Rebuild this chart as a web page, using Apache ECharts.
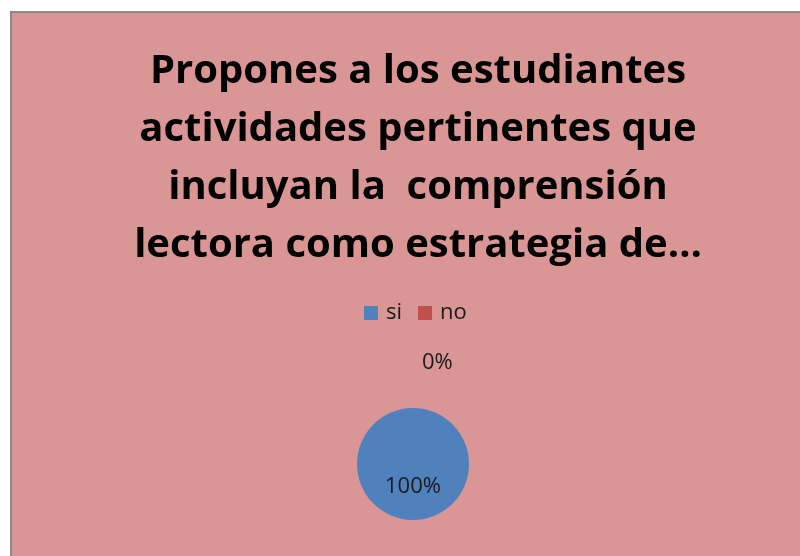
<!DOCTYPE html>
<html>
<head>
<meta charset="utf-8">
<script src="https://cdn.jsdelivr.net/npm/echarts@6/dist/echarts.min.js"></script>
<style>
  html, body { margin: 0; padding: 0; background: #fff; }
  #myChart { width: 800px; height: 556px; }
</style>
</head>
<body>
<div id="myChart"></div>
<script>
// datos del gráfico
const categories = ['si', 'no'];
const values = [100, 0];
const colors = ['#4F81BD', '#C0504D'];
const titleLines = [
  'Propones a los estudiantes',
  'actividades pertinentes que',
  'incluyan la  comprensión',
  'lectora como estrategia de…'
];

const myChart = echarts.init(document.getElementById('myChart'));

const setOption = () => {
  return {
    backgroundColor: '#fff',
    animation: false,
    graphic: [
      {
        type: 'rect',
        z: -10,
        shape: { x: 11, y: 12, width: 800, height: 560 },
        style: { fill: '#D99694', stroke: '#8C8C8C', lineWidth: 2 },
        silent: true,
      },
    ],
    title: {
      text: titleLines.join('\n'),
      left: 413,
      textAlign: 'center',
      top: 38,
      textStyle: {
        fontFamily: 'Open Sans',
        fontWeight: 'bold',
        fontSize: 40,
        lineHeight: 58,
        color: '#000',
      },
    },
    legend: {
      data: categories,
      left: 364,
      top: 302,
      padding: 0,
      itemWidth: 14,
      itemHeight: 14,
      itemGap: 16,
      icon: 'rect',
      textStyle: {
        fontFamily: 'Open Sans',
        fontSize: 22,
        color: '#1a1a1a',
        padding: [0, 0, 0, 3],
      },
    },
    series: [
      {
        type: 'pie',
        center: [413, 464],
        radius: 56,
        startAngle: 90,
        color: colors,
        label: {
          show: true,
          formatter: '{d}%',
          fontFamily: 'Open Sans',
          fontSize: 22,
          color: '#1a1a1a',
        },
        labelLine: { show: false },
        // ajuste de las etiquetas como en el original
        labelLayout: (params) => {
          if (params.dataIndex === 1) return { dx: -26, dy: -30 };
          return { dy: -8 };
        },
        data: categories.map((name, i) => ({
          name: name,
          value: values[i],
          label: { position: i === 0 ? 'inside' : 'outside' },
        })),
      },
    ],
  };
};

myChart.setOption(setOption());
</script>
</body>
</html>
